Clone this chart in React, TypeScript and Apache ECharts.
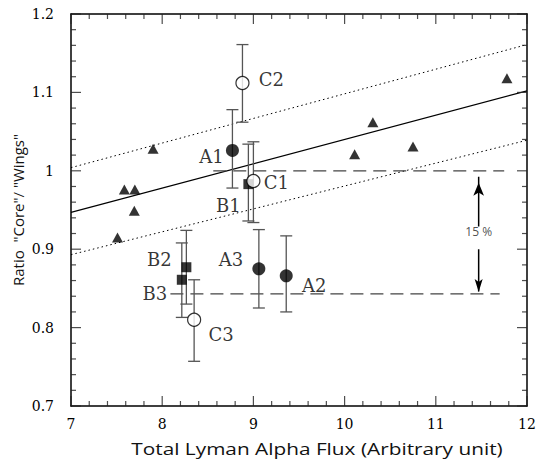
import React, { useEffect, useRef } from "react";
import * as echarts from "echarts";

// ---- data ----
const X_MIN = 7;
const X_MAX = 12;
const Y_MIN = 0.7;
const Y_MAX = 1.2;
const X_TICKS = [7, 8, 9, 10, 11, 12];
const Y_TICKS = [0.7, 0.8, 0.9, 1.0, 1.1, 1.2];
const X_MINOR_STEP = 0.2;
const Y_MINOR_STEP = 0.02;

const TRI_X = [7.51, 7.585, 7.70, 7.694, 7.90, 10.11, 10.31, 10.75, 11.78];
const TRI_Y = [0.915, 0.976, 0.976, 0.949, 1.028, 1.021, 1.062, 1.031, 1.118];

const A_NAMES = ["A1", "A2", "A3"];
const A_X = [8.77, 9.36, 9.06];
const A_Y = [1.026, 0.866, 0.875];
const A_LO = [0.978, 0.820, 0.825];
const A_HI = [1.078, 0.917, 0.925];

const B_NAMES = ["B1", "B2", "B3"];
const B_X = [8.945, 8.265, 8.215];
const B_Y = [0.983, 0.877, 0.861];
const B_LO = [0.936, 0.830, 0.813];
const B_HI = [1.034, 0.924, 0.908];

const C_NAMES = ["C1", "C2", "C3"];
const C_X = [9.0, 8.88, 8.35];
const C_Y = [0.987, 1.112, 0.810];
const C_LO = [0.934, 1.062, 0.757];
const C_HI = [1.037, 1.161, 0.861];

const FIT_X = [7, 12];
const FIT_Y = [0.947, 1.102];
const UPPER_Y = [1.004, 1.161];
const LOWER_Y = [0.893, 1.039];

const REF_HIGH_X = [8.56, 11.75];
const REF_HIGH_Y = 1.0;
const REF_LOW_X = [8.09, 11.70];
const REF_LOW_Y = 0.843;

const ARROW_X = 11.47;
const ARROW_UP_Y = [0.929, 0.9925];
const ARROW_DOWN_Y = [0.900, 0.846];
const PCT_TEXT = "15 %";
const PCT_Y = 0.922;

const X_TITLE = "Total Lyman Alpha Flux (Arbitrary unit)";
const Y_TITLE = 'Ratio  "Core"/ "Wings"';

// ---- styles (label offsets in pixels) ----
const LABEL_OFFSETS: Record<string, [number, number]> = {
  A1: [-21, 6],
  A2: [28, 10],
  A3: [-28, -9],
  B1: [-20, 21],
  B2: [-27, -8],
  B3: [-27, 14],
  C1: [23, 2],
  C2: [29, -3],
  C3: [27, 15],
};

const SERIF = "DejaVu Serif";
const SANS = "Open Sans";
const ARROW_DOWN_PATH = "path://M0,0 L4,3 L8,0 L4,13 Z";

export default function App() {
  const ref = useRef<HTMLDivElement>(null);

  useEffect(() => {
    if (!ref.current) return;
    const chart = echarts.init(ref.current, undefined, { renderer: "svg" });

    const axisBase = {
      axisLine: { show: true, onZero: false, lineStyle: { color: "#000", width: 1.5 } },
      axisTick: { show: false },
      minorTick: { show: false },
      splitLine: { show: false },
      minorSplitLine: { show: false },
    };

    const xLabel = {
      show: true,
      color: "#000",
      fontFamily: SERIF,
      fontSize: 14,
      margin: 11,
      formatter: (v: number) => (X_TICKS.some((t) => Math.abs(t - v) < 1e-9) ? String(v) : ""),
    };
    const yLabel = {
      show: true,
      color: "#000",
      fontFamily: SERIF,
      fontSize: 14,
      margin: 17,
      formatter: (v: number) => {
        const r = Math.round(v * 10) / 10;
        return Y_TICKS.some((t) => Math.abs(t - r) < 1e-9) ? String(r) : "";
      },
    };

    // tick positions (major every 5th minor step)
    const xMajor: number[] = [];
    const xMinor: number[] = [];
    const nx = Math.round((X_MAX - X_MIN) / X_MINOR_STEP);
    for (let i = 0; i <= nx; i++) {
      const v = Math.min(X_MIN + i * X_MINOR_STEP, X_MAX);
      (i % 5 === 0 ? xMajor : xMinor).push(v);
    }
    const yMajor: number[] = [];
    const yMinor: number[] = [];
    const ny = Math.round((Y_MAX - Y_MIN) / Y_MINOR_STEP);
    for (let i = 0; i <= ny; i++) {
      const v = Math.min(Y_MIN + i * Y_MINOR_STEP, Y_MAX);
      (i % 5 === 0 ? yMajor : yMinor).push(v);
    }

    const TW = 1.2;
    const tickSeries = (data: number[][], size: number[], offset: number[]) => ({
      type: "scatter",
      data,
      symbol: "rect",
      symbolSize: size,
      symbolOffset: offset,
      itemStyle: { color: "#222" },
      clip: false,
      silent: true,
      z: 12,
    });
    const ticks: any[] = [];
    [
      [xMajor, 10],
      [xMinor, 5],
    ].forEach(([vals, len]: any) => {
      ticks.push(tickSeries(vals.map((v: number) => [v, Y_MIN]), [TW, len], [0, -len / 2]));
      ticks.push(tickSeries(vals.map((v: number) => [v, Y_MAX]), [TW, len], [0, len / 2]));
    });
    [
      [yMajor, 10],
      [yMinor, 5],
    ].forEach(([vals, len]: any) => {
      ticks.push(tickSeries(vals.map((v: number) => [X_MIN, v]), [len, TW], [len / 2, 0]));
      ticks.push(tickSeries(vals.map((v: number) => [X_MAX, v]), [len, TW], [-len / 2, 0]));
    });

    const errRows: number[][] = [
      ...A_X.map((x, i) => [x, A_LO[i], A_HI[i]]),
      ...B_X.map((x, i) => [x, B_LO[i], B_HI[i]]),
      ...C_X.map((x, i) => [x, C_LO[i], C_HI[i]]),
    ];

    const errRender = (params: any, api: any) => {
      const x = api.value(0);
      const pLo = api.coord([x, api.value(1)]);
      const pHi = api.coord([x, api.value(2)]);
      const hw = 6;
      return {
        type: "group",
        children: [
          { type: "line", shape: { x1: pLo[0], y1: pLo[1], x2: pHi[0], y2: pHi[1] }, style: { stroke: "#555", lineWidth: 1.3 } },
          { type: "line", shape: { x1: pLo[0] - hw, y1: pLo[1], x2: pLo[0] + hw, y2: pLo[1] }, style: { stroke: "#555", lineWidth: 1.3 } },
          { type: "line", shape: { x1: pHi[0] - hw, y1: pHi[1], x2: pHi[0] + hw, y2: pHi[1] }, style: { stroke: "#555", lineWidth: 1.3 } },
        ],
      };
    };

    const labelled = (names: string[], xs: number[], ys: number[]) =>
      names.map((n, i) => ({
        name: n,
        value: [xs[i], ys[i]],
        label: { offset: LABEL_OFFSETS[n] },
      }));

    const pointLabel = {
      show: true,
      position: "inside",
      formatter: "{b}",
      color: "#000",
      fontFamily: SERIF,
      fontSize: 18,
    };

    const option: any = {
      animation: false,
      backgroundColor: "#fff",
      grid: { left: 71, right: 13, top: 14, bottom: 55, containLabel: false },
      xAxis: [
        { type: "value", min: X_MIN, max: X_MAX, interval: 1, position: "bottom", ...axisBase, axisLabel: xLabel },
        { type: "value", min: X_MIN, max: X_MAX, interval: 1, position: "top", ...axisBase, axisLabel: { show: false } },
      ],
      yAxis: [
        { type: "value", min: Y_MIN, max: Y_MAX, interval: 0.1, position: "left", ...axisBase, axisLabel: yLabel },
        { type: "value", min: Y_MIN, max: Y_MAX, interval: 0.1, position: "right", ...axisBase, axisLabel: { show: false } },
      ],
      graphic: [
        {
          type: "text",
          x: 317,
          y: 449,
          scaleX: 1.3,
          style: {
            text: X_TITLE,
            fontFamily: SANS,
            fontSize: 16,
            fill: "#111",
            textAlign: "center",
            textVerticalAlign: "middle",
          },
        },
        {
          type: "text",
          x: 18,
          y: 210,
          rotation: Math.PI / 2,
          style: {
            text: Y_TITLE,
            fontFamily: SANS,
            fontSize: 15,
            fill: "#111",
            textAlign: "center",
            textVerticalAlign: "middle",
          },
        },
      ],
      series: [
        {
          type: "line",
          data: FIT_X.map((x, i) => [x, FIT_Y[i]]),
          symbol: "none",
          lineStyle: { color: "#000", width: 1.2, type: "solid" },
          z: 1,
        },
        {
          type: "line",
          data: FIT_X.map((x, i) => [x, UPPER_Y[i]]),
          symbol: "none",
          lineStyle: { color: "#000", width: 1, type: [1.5, 3] },
          z: 1,
        },
        {
          type: "line",
          data: FIT_X.map((x, i) => [x, LOWER_Y[i]]),
          symbol: "none",
          lineStyle: { color: "#000", width: 1, type: [1.5, 3] },
          z: 1,
        },
        {
          type: "line",
          data: REF_HIGH_X.map((x) => [x, REF_HIGH_Y]),
          symbol: "none",
          lineStyle: { color: "#444", width: 1.3, type: [13, 7] },
          z: 1,
        },
        {
          type: "line",
          data: REF_LOW_X.map((x) => [x, REF_LOW_Y]),
          symbol: "none",
          lineStyle: { color: "#444", width: 1.3, type: [13, 7] },
          z: 1,
        },
        {
          type: "line",
          data: [
            { value: [ARROW_X, ARROW_UP_Y[0]], symbol: "none" },
            { value: [ARROW_X, ARROW_UP_Y[1]], symbol: "arrow", symbolSize: [8, 13], symbolOffset: [0, 6] },
          ],
          showSymbol: true,
          itemStyle: { color: "#000" },
          lineStyle: { color: "#000", width: 1.5 },
          z: 2,
        },
        {
          type: "line",
          data: [
            { value: [ARROW_X, ARROW_DOWN_Y[0]], symbol: "none" },
            { value: [ARROW_X, ARROW_DOWN_Y[1]], symbol: ARROW_DOWN_PATH, symbolSize: [8, 13], symbolOffset: [0, -6] },
          ],
          showSymbol: true,
          itemStyle: { color: "#000" },
          lineStyle: { color: "#000", width: 1.5 },
          z: 2,
        },
        {
          type: "scatter",
          data: [{ name: PCT_TEXT, value: [ARROW_X, PCT_Y] }],
          symbol: "circle",
          symbolSize: 2,
          itemStyle: { color: "rgba(0,0,0,0)" },
          label: {
            show: true,
            position: "inside",
            formatter: "{b}",
            color: "#222",
            fontFamily: SANS,
            fontSize: 12,
          },
          z: 2,
        },
        {
          type: "custom",
          data: errRows,
          renderItem: errRender,
          encode: { x: 0, y: [1, 2] },
          z: 3,
        },
        {
          type: "scatter",
          data: TRI_X.map((x, i) => [x, TRI_Y[i]]),
          symbol: "triangle",
          symbolSize: [11, 10],
          itemStyle: { color: "#000" },
          z: 5,
        },
        {
          type: "scatter",
          data: labelled(A_NAMES, A_X, A_Y),
          symbol: "circle",
          symbolSize: 13,
          itemStyle: { color: "#000" },
          label: pointLabel,
          z: 5,
        },
        {
          type: "scatter",
          data: labelled(B_NAMES, B_X, B_Y),
          symbol: "rect",
          symbolSize: 10,
          itemStyle: { color: "#000" },
          label: pointLabel,
          z: 5,
        },
        {
          type: "scatter",
          data: labelled(C_NAMES, C_X, C_Y),
          symbol: "circle",
          symbolSize: 13,
          itemStyle: { color: "#fff", borderColor: "#000", borderWidth: 1.2 },
          label: pointLabel,
          z: 5,
        },
        ...ticks,
      ],
    };

    chart.setOption(option);
    return () => chart.dispose();
  }, []);

  return (
    <div
      ref={ref}
      style={{ position: "absolute", left: 0, top: 0, width: 540, height: 461 }}
    />
  );
}
